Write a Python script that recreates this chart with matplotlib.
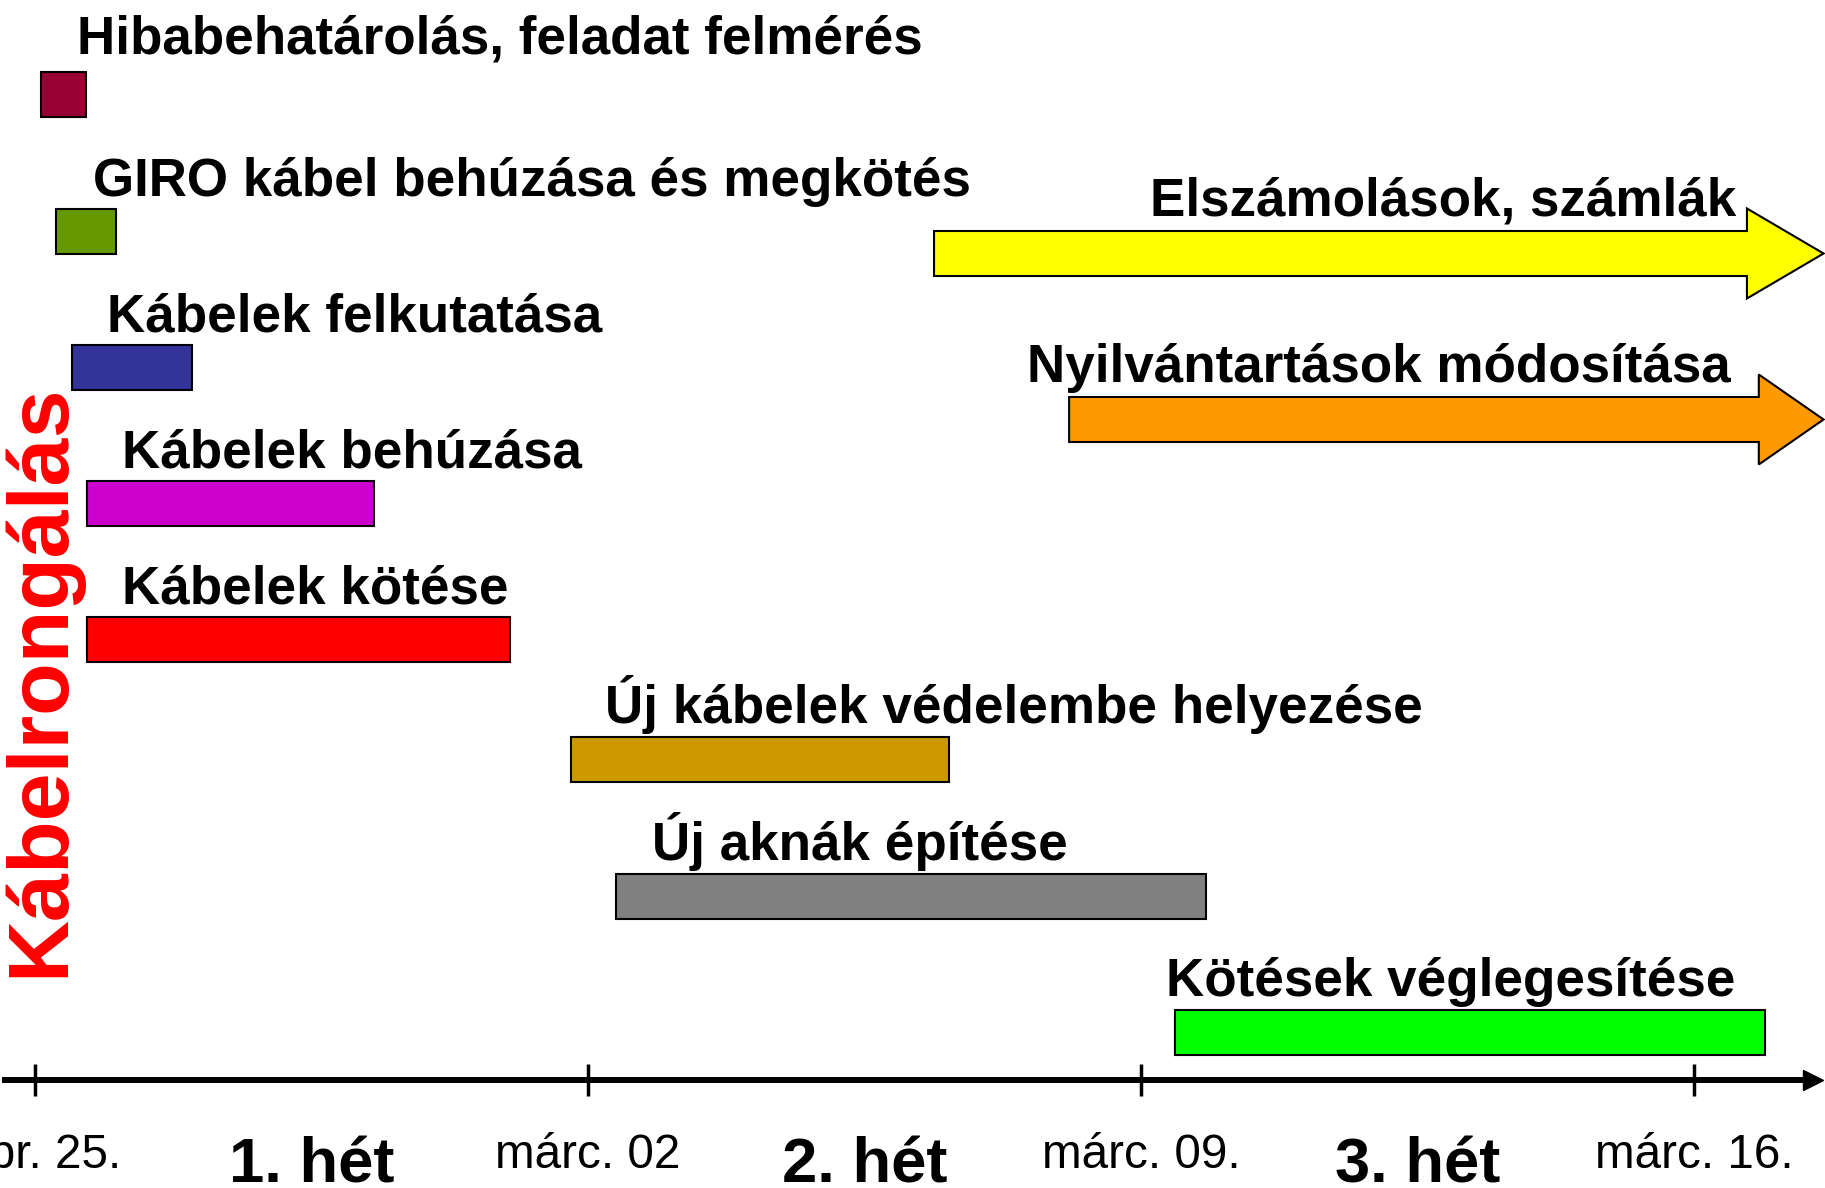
import matplotlib
matplotlib.use('Agg')
import matplotlib.pyplot as plt
from matplotlib.patches import FancyArrow

plt.rcParams['font.family'] = 'Liberation Sans'

# tasks (days from febr. 25.)
tasks = ['Hibabehatárolás, feladat felmérés',
         'GIRO kábel behúzása és megkötés',
         'Kábelek felkutatása',
         'Kábelek behúzása',
         'Kábelek kötése',
         'Új kábelek védelembe helyezése',
         'Új aknák építése',
         'Kötések véglegesítése']
starts = [0.07, 0.27, 0.47, 0.66, 0.66, 6.78, 7.35, 14.43]
ends = [0.65, 1.03, 1.99, 4.29, 6.01, 11.57, 14.82, 21.90]
colors = ['#990033', '#669900', '#333399', '#CC00CC', '#FF0000',
          '#CC9900', '#808080', '#00FF00']

# open-ended tasks (arrows)
arrow_tasks = ['Elszámolások, számlák', 'Nyilvántartások módosítása']
arrow_starts = [11.38, 13.09]
arrow_ends = [22.64, 22.64]
arrow_colors = ['#FFFF00', '#FF9900']

week_ticks = [0, 7, 14, 21]
date_labels = ['febr. 25.', 'márc. 02', 'márc. 09.', 'márc. 16.']
week_mid = [3.5, 10.5, 17.5]
week_labels = ['1. hét', '2. hét', '3. hét']

# layout (pixels from top)
bar_top = [72, 209, 345, 481, 617, 737, 874, 1010]
label_gap = [19, 13, 13, 13, 13, 14, 14, 14]
label_x = [0.53, 0.74, 0.91, 1.10, 1.10, 7.22, 7.81, 14.32]
arrow_top = [231, 397]
arrow_head = [0.97, 0.82]
arrow_label_x = [21.54, 21.46]
bar_h = 45
axis_y = 1080

fig = plt.figure(figsize=(18.25, 11.88), dpi=100)
ax = fig.add_axes([0, 0, 1, 1])
ax.set_xlim(-0.443, 22.658)
ax.set_ylim(1188, 0)

for i, name in enumerate(tasks):
    ax.barh(bar_top[i] + bar_h / 2, ends[i] - starts[i], left=starts[i],
            height=bar_h, color=colors[i], edgecolor='black', linewidth=1.5)
    ax.text(label_x[i], bar_top[i] - label_gap[i], name,
            fontsize=38.2, fontweight='bold', va='baseline', ha='left')

for i, name in enumerate(arrow_tasks):
    yc = arrow_top[i] + bar_h / 2
    ax.add_patch(FancyArrow(arrow_starts[i], yc, arrow_ends[i] - arrow_starts[i], 0,
                            width=bar_h, head_width=2 * bar_h, head_length=arrow_head[i],
                            length_includes_head=True, facecolor=arrow_colors[i],
                            edgecolor='black', linewidth=1.5))
    ax.text(arrow_label_x[i], arrow_top[i] - 15, name, fontsize=38.2,
            fontweight='bold', va='baseline', ha='right')

ax.text(0.08, 680, 'Kábelrongálás', rotation=90, ha='center', va='center',
        color='#FF0000', fontsize=62, fontweight='heavy')

# time axis
for side in ['top', 'right', 'left']:
    ax.spines[side].set_visible(False)
ax.spines['bottom'].set_position(('data', axis_y))
ax.spines['bottom'].set_linewidth(4.3)
ax.spines['bottom'].set_bounds(-0.38, 22.45)
ax.plot(22.5, axis_y, marker='>', markersize=14, color='black', clip_on=False)
ax.set_yticks([])

ax.set_xticks(week_ticks, labels=date_labels)
ax.tick_params(axis='x', which='major', direction='inout', length=23, width=2.5,
               pad=27, labelsize=34.3)
ax.set_xticks(week_mid, labels=week_labels, minor=True)
ax.tick_params(axis='x', which='minor', length=0, pad=41, labelsize=45.6)
for lbl in ax.get_xticklabels(minor=True):
    lbl.set_fontweight('bold')

fig.savefig('out.png', dpi=100)
